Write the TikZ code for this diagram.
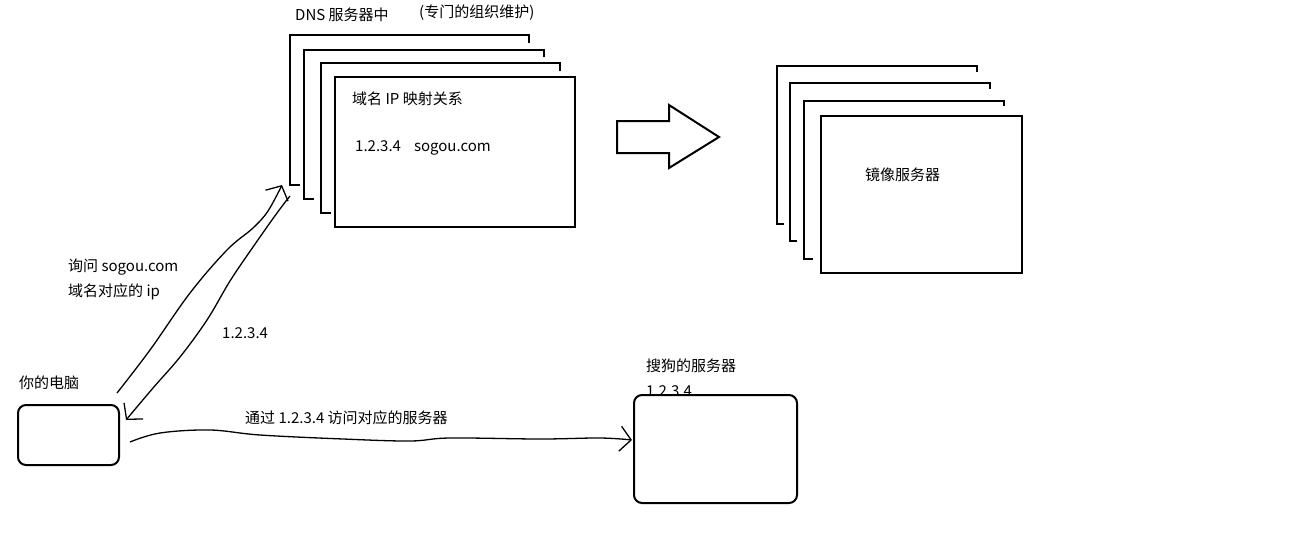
\documentclass[tikz,border=0pt]{standalone}
\usepackage{fontspec}
\setmainfont{Noto Sans CJK SC}
\usepackage{tikz}
\usetikzlibrary{positioning}
\usetikzlibrary{arrows.meta}

\tikzset{
    txt/.style={font=\fontsize{15}{18}\selectfont, anchor=west, inner sep=0pt},
    frame/.style={line width=2pt},
    sheet/.style={draw, line width=2pt, fill=white, inner sep=0pt},
    pcbox/.style={draw, line width=2pt, rounded corners=8pt, fill=white, inner sep=0pt},
    link/.style={line width=1.3pt, -{Straight Barb[length=11pt,width=25pt]}}
}

\begin{document}
\begin{tikzpicture}[x=1pt, y=-1pt]
    \useasboundingbox (0, 0) rectangle (1296, 544); % same size as the reference

    % DNS stack, back sheets first
    \draw[frame] (300, 185) -- (290, 185) -- (290, 35) -- (529, 35) -- (529, 43);
    \draw[frame] (314, 199) -- (304, 199) -- (304, 50) -- (544, 50) -- (544, 57);
    \draw[frame] (331, 213) -- (321, 213) -- (321, 63) -- (560, 63) -- (560, 71);
    \node[sheet, minimum width=240pt, minimum height=150pt] (dns) at (455, 152) {};
    \node[txt] (dnstitle) at (295, 15) {DNS 服务器中};
    \node[txt] (dnsnote) at (419, 13) {(专门的组织维护)};
    \node[txt] (maptitle) at (352, 99) {域名 IP 映射关系};
    \node[txt] (maprow) at (355, 148) {1.2.3.4\hspace{13pt}sogou.com};

    % the big hollow arrow
    \draw[line width=2pt] (617, 121) -- (669, 121) -- (669, 105) -- (719, 137) -- (669, 168) -- (669, 153) -- (617, 153) -- cycle;

    % mirror stack
    \draw[frame] (784, 224) -- (777, 224) -- (777, 66) -- (977, 66) -- (977, 72);
    \draw[frame] (797, 241) -- (790, 241) -- (790, 83) -- (990, 83) -- (990, 89);
    \draw[frame] (813, 259) -- (804, 259) -- (804, 101) -- (1004, 101) -- (1004, 106);
    \node[sheet, minimum width=201pt, minimum height=157pt] (mirror) at (921.5, 194.5) {};
    \node[txt] (mirrortext) at (865, 175) {镜像服务器};

    % your computer
    \node[txt] (pctitle) at (19, 383) {你的电脑};
    \node[pcbox, minimum width=101pt, minimum height=60pt] (pc) at (68.5, 435) {};

    % sogou server
    \node[txt] (sogoutitle) at (646, 366) {搜狗的服务器};
    \node[txt] (sogouip) at (646, 391) {1.2.3.4};
    \node[pcbox, minimum width=163pt, minimum height=108pt] (sogou) at (715.5, 449) {};

    % ends of the hand drawn lines
    \coordinate (askfrom) at (117, 393);
    \coordinate (askto) at (282, 185);
    \coordinate (replyfrom) at (290, 196);
    \coordinate (replyto) at (126, 420);
    \coordinate (visitfrom) at (130, 442);
    \coordinate (visitto) at (632, 440);

    \draw[link] plot[smooth, tension=0.6] coordinates {(askfrom) (150, 350) (190, 293) (227, 250) (253, 228) (268, 211) (askto)};
    \draw[link] plot[smooth, tension=0.6] coordinates {(replyfrom) (277, 213) (253, 247) (230, 281) (207, 320) (180, 357) (153, 388) (replyto)};
    \draw[link] plot[smooth, tension=0.6] coordinates {(visitfrom) (160, 433) (210, 430) (260, 435) (343, 439) (410, 441) (450, 438) (540, 439) (600, 438) (visitto)};

    \node[txt] (asktext) at (68, 267) {询问 sogou.com};
    \node[txt] (asktext2) at (68, 292) {域名对应的 ip};
    \node[txt] (replytext) at (222, 333) {1.2.3.4};
    \node[txt] (visittext) at (245, 418) {通过 1.2.3.4 访问对应的服务器};
\end{tikzpicture}
\end{document}
